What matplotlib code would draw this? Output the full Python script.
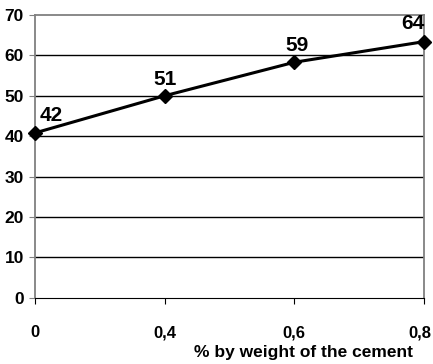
import matplotlib
matplotlib.use("Agg")
import matplotlib.pyplot as plt
import matplotlib.transforms as mtransforms

categories = ["0", "0,4", "0,6", "0,8"]
values = [40.8, 50.0, 58.3, 63.4]
labels = ["42", "51", "59", "64"]
yticks = [0, 10, 20, 30, 40, 50, 60, 70]

plt.rcParams["font.family"] = ["Liberation Sans Narrow", "Liberation Sans", "DejaVu Sans"]
plt.rcParams["font.weight"] = "bold"

W, H = 433, 364
fig = plt.figure(figsize=(W / 100, H / 100), dpi=100)
ax = fig.add_axes([35 / W, 1 - 297.7 / H, 389 / W, 282.7 / H])
x = list(range(len(categories)))
ax.plot(x, values, color="black", lw=2.2, marker="D", ms=7.5, clip_on=False, zorder=5)
offsets = [(3, 6), (0, 5), (2, 5), (-8, 6)]
aligns = ["left", "center", "center", "center"]
for xi, v, lab, off, al in zip(x, values, labels, offsets, aligns):
    ax.annotate(lab, (xi, v), xytext=off, textcoords="offset points", ha=al,
                va="bottom", fontsize=15, fontweight="bold")
ax.set_xlim(0, 3)
ax.set_ylim(0, 70)
ax.set_xticks(x)
ax.set_xticklabels(categories)
ax.set_yticks(yticks)
for yv in yticks[1:-1]:
    ax.axhline(yv, color="black", lw=1, zorder=1)
for s in ["top", "left", "right"]:
    ax.spines[s].set_color("#808080")
    ax.spines[s].set_linewidth(1.3)
ax.spines["bottom"].set_color("black")
ax.tick_params(axis="x", length=4, pad=16, labelsize=12, color="black")
ax.tick_params(axis="y", length=4, pad=4, labelsize=12.5, color="#808080")
last = ax.get_xticklabels()[-1]
last.set_transform(last.get_transform() + mtransforms.ScaledTranslation(-4 / 100, 0, fig.dpi_scale_trans))
fig.text(413 / W, 1 - 352 / H, "% by weight of the cement", fontsize=12.5,
         fontweight="bold", ha="right", va="center")
fig.text(0.0, 1.0 + 9 / H, "y   Compressive strength (MPa)", fontsize=13,
         fontweight="bold", va="center", ha="left")
fig.savefig("out.png", dpi=100)
